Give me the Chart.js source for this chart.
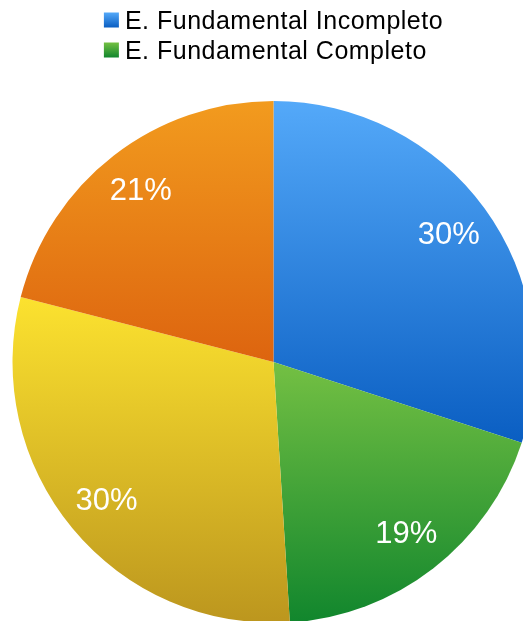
<!DOCTYPE html>
<html>
<head>
<meta charset="utf-8">
<script src="https://cdn.jsdelivr.net/npm/chart.js@4.4.1/dist/chart.umd.min.js"></script>
<style>
  html, body { margin: 0; padding: 0; background: #fff; overflow: hidden; }
  #pieChart { display: block; }
</style>
</head>
<body>
<canvas id="pieChart" width="547" height="623"></canvas>
<script>
// Escolaridade - fatias em % (sentido horário a partir do topo)
const categorias = ['E. Fundamental Incompleto', 'E. Fundamental Completo', 'E. Médio Incompleto', 'E. Médio Completo'];
const percentuais = [30, 19, 30, 21];
const legendaVisivel = 2; // só as duas primeiras entradas aparecem na legenda

// cor clara (topo) e escura (base) de cada fatia
const corTopo = ['#54a9f9', '#74c043', '#fce22f', '#f29b1e'];
const corBase = ['#0a5ec2', '#11862d', '#bc961e', '#dd640f'];

const fonte = '"Liberation Sans", Arial, sans-serif';

// degradê vertical que cobre só a altura da própria fatia
function gradienteFatia(context) {
    const i = context.dataIndex;
    const chart = context.chart;
    const area = chart.chartArea;
    if (!area) return corTopo[i];

    const cx = (area.left + area.right) / 2;
    const cy = (area.top + area.bottom) / 2;
    const r = Math.min(area.width, area.height) / 2;
    const total = percentuais.reduce((a, b) => a + b, 0);
    const antes = percentuais.slice(0, i).reduce((a, b) => a + b, 0);
    const ini = -Math.PI / 2 + 2 * Math.PI * antes / total;
    const fim = ini + 2 * Math.PI * percentuais[i] / total;

    const ys = [cy, cy + r * Math.sin(ini), cy + r * Math.sin(fim)];
    if (ini <= -Math.PI / 2 + 1e-6 || fim >= 1.5 * Math.PI - 1e-6) ys.push(cy - r);
    if (ini <= Math.PI / 2 && fim >= Math.PI / 2) ys.push(cy + r);

    const g = chart.ctx.createLinearGradient(0, Math.min(...ys), 0, Math.max(...ys));
    g.addColorStop(0, corTopo[i]);
    g.addColorStop(1, corBase[i]);
    return g;
}

// legenda no topo: quadradinho com degradê + texto
const legendaTopo = {
    id: 'legendaTopo',
    afterDraw(chart) {
        const ctx = chart.ctx;
        const area = chart.chartArea;
        const caixa = 15, espaco = 6, linha = 30;
        ctx.save();
        ctx.font = '25px ' + fonte;
        ctx.letterSpacing = '0.5px';
        ctx.textBaseline = 'alphabetic';
        ctx.textAlign = 'left';

        const itens = chart.data.labels.slice(0, legendaVisivel);
        const larg = Math.max(...itens.map(t => ctx.measureText(t).width));
        const x0 = (area.left + area.right) / 2 - (caixa + espaco + larg) / 2;

        itens.forEach((texto, i) => {
            const yTopo = 12.5 + i * linha;
            const g = ctx.createLinearGradient(0, yTopo, 0, yTopo + caixa);
            g.addColorStop(0, corTopo[i]);
            g.addColorStop(1, corBase[i]);
            ctx.fillStyle = g;
            ctx.fillRect(x0, yTopo, caixa, caixa);

            ctx.fillStyle = '#000';
            ctx.fillText(texto, x0 + caixa + espaco, yTopo + 16);
        });
        ctx.restore();
    }
};

// rótulos de porcentagem dentro das fatias
const rotulosPct = {
    id: 'rotulosPct',
    afterDatasetsDraw(chart) {
        const ctx = chart.ctx;
        const meta = chart.getDatasetMeta(0);
        ctx.save();
        ctx.font = '31px ' + fonte;
        ctx.fillStyle = '#fff';
        ctx.textAlign = 'center';
        ctx.textBaseline = 'middle';
        meta.data.forEach((arc, i) => {
            const p = arc.getProps(['x', 'y', 'startAngle', 'endAngle', 'outerRadius'], true);
            const meio = (p.startAngle + p.endAngle) / 2;
            const d = p.outerRadius * 0.83;
            ctx.fillText(percentuais[i] + '%', p.x + Math.cos(meio) * d, p.y + Math.sin(meio) * d + 1);
        });
        ctx.restore();
    }
};

const ctx = document.getElementById('pieChart').getContext('2d');
new Chart(ctx, {
    type: 'pie',
    data: {
        labels: categorias,
        datasets: [{
            data: percentuais,
            backgroundColor: gradienteFatia,
            borderWidth: 0
        }]
    },
    options: {
        responsive: false,
        animation: false,
        layout: {
            padding: { top: 101, left: 12.5, right: 12.5, bottom: 0 }
        },
        plugins: {
            legend: { display: false },
            tooltip: { enabled: false }
        }
    },
    plugins: [legendaTopo, rotulosPct]
});
</script>
</body>
</html>
